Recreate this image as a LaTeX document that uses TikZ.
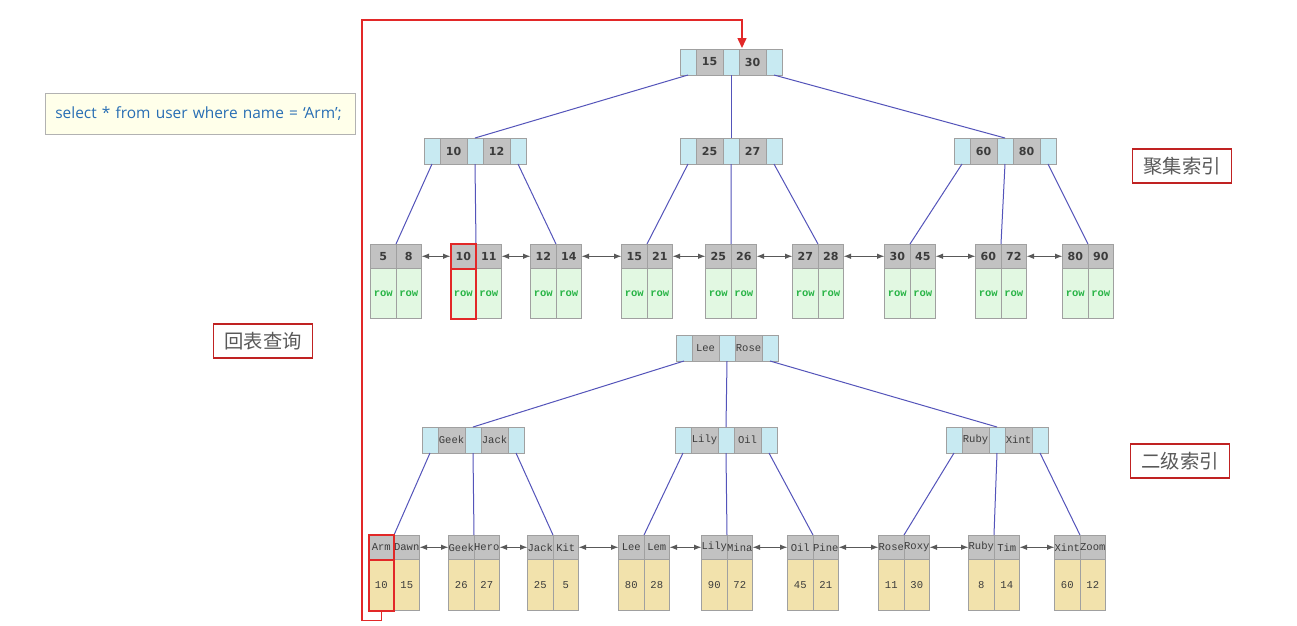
\documentclass[tikz,border=0pt]{standalone}
\usepackage{fontspec}
\setmainfont{DejaVu Sans}
\newfontfamily\monofont{Liberation Mono}
\newfontfamily\sqlfont{Open Sans}
\newfontfamily\cjkfont{Noto Sans CJK SC}
\usetikzlibrary{arrows.meta, positioning, fit, calc}
\definecolor{ptrblue}{RGB}{200,234,242}
\definecolor{keygray}{RGB}{194,194,194}
\definecolor{cellline}{RGB}{160,160,160}
\definecolor{keytext}{RGB}{60,60,60}
\definecolor{rowgreen}{RGB}{226,248,226}
\definecolor{rowtext}{RGB}{40,180,70}
\definecolor{valtan}{RGB}{242,226,172}
\definecolor{edgeblue}{RGB}{84,84,186}
\definecolor{hitred}{RGB}{226,40,40}
\definecolor{sqlfill}{RGB}{255,255,234}
\definecolor{sqltext}{RGB}{40,110,180}
\tikzset{%
	ptr/.style={draw=cellline, fill=ptrblue, minimum width=3.2mm, minimum height=5.2mm,%
		inner sep=0mm, outer sep=0mm},
	key/.style={draw=cellline, fill=keygray, minimum width=5.4mm, minimum height=5.2mm,%
		inner sep=0mm, outer sep=0mm, text=keytext, font=\bfseries\fontsize{6.3}{7}\selectfont},
	lkey/.style={draw=cellline, fill=keygray, minimum width=5.1mm, minimum height=4.9mm,%
		inner sep=0mm, outer sep=0mm, text=keytext, font=\bfseries\fontsize{6.3}{7}\selectfont},
	rowcell/.style={draw=cellline, fill=rowgreen, minimum width=5.1mm, minimum height=10mm,%
		inner sep=0mm, outer sep=0mm, text=rowtext, font=\monofont\bfseries\fontsize{6}{7}\selectfont},
	valcell/.style={draw=cellline, fill=valtan, minimum width=5.1mm, minimum height=10.2mm,%
		inner sep=0mm, outer sep=0mm, text=keytext, font=\monofont\fontsize{6}{7}\selectfont},
	names/.style={font=\monofont\fontsize{6}{7}\selectfont},
	edge/.style={draw=edgeblue, line width=0.2mm},
	link/.style={<->, >={Latex[length=1.5mm, width=1.1mm]}, draw=black!65, line width=0.2mm},
	hl/.style={draw=hitred, line width=0.4mm, inner sep=0mm},
	back/.style={-{Triangle[length=2mm, width=1.8mm]}, draw=hitred, line width=0.3mm},
	tag/.style={draw=hitred!85!black, line width=0.3mm, fill=white, minimum width=19.8mm,%
		minimum height=6.8mm, text=black!65, font=\cjkfont\fontsize{11}{12}\selectfont},
	query/.style={draw=black!30, fill=sqlfill, minimum height=8.2mm, text width=58mm,%
		inner xsep=2mm, align=left, text=sqltext, font=\sqlfont\fontsize{8.8}{10}\selectfont}
}
% inner node: name, left x, top y, key 1, key 2
\newcommand\inode[5]{%
	\node[ptr, anchor=north west] (#1-p1) at (#2,#3) {};
	\node[key, right=0pt of #1-p1] (#1-k1) {#4};
	\node[ptr, right=0pt of #1-k1] (#1-p2) {};
	\node[key, right=0pt of #1-p2] (#1-k2) {#5};
	\node[ptr, right=0pt of #1-k2] (#1-p3) {};
}
% clustered leaf: name, middle x, key 1, key 2
\newcommand\cleaf[4]{%
	\node[lkey, anchor=north east] (#1-k1) at (#2,244) {#3};
	\node[lkey, anchor=north west] (#1-k2) at (#2,244) {#4};
	\node[rowcell, below=0pt of #1-k1] (#1-v1) {row};
	\node[rowcell, below=0pt of #1-k2] (#1-v2) {row};
}
% secondary leaf: name, middle x, key 1, value 1, key 2, value 2
\newcommand\sleaf[6]{%
	\node[lkey, names, anchor=north east] (#1-k1) at (#2,535) {#3};
	\node[lkey, names, anchor=north west] (#1-k2) at (#2,535) {#5};
	\node[valcell, below=0pt of #1-k1] (#1-v1) {#4};
	\node[valcell, below=0pt of #1-k2] (#1-v2) {#6};
}

\begin{document}
\begin{tikzpicture}[x=0.2mm, y=-0.2mm]
  \useasboundingbox[fill=white] (0,0) rectangle (1297,625);

  % clustered index
  \inode{cr}{680}{49}{15}{30}
  \inode{ca}{424}{138}{10}{12}
  \inode{cb}{680}{138}{25}{27}
  \inode{cc}{954}{138}{60}{80}
  \cleaf{c1}{396}{5}{8}
  \cleaf{c2}{476}{10}{11}
  \cleaf{c3}{556}{12}{14}
  \cleaf{c4}{647}{15}{21}
  \cleaf{c5}{731}{25}{26}
  \cleaf{c6}{818}{27}{28}
  \cleaf{c7}{910}{30}{45}
  \cleaf{c8}{1001}{60}{72}
  \cleaf{c9}{1088}{80}{90}

  % secondary index
  \begin{scope}[key/.append style={names}]
    \inode{sr}{676}{335}{Lee}{Rose}
    \inode{sa}{422}{427}{Geek}{Jack}
    \inode{sb}{675}{427}{Lily}{Oil}
    \inode{sc}{946}{427}{Ruby}{Xint}
  \end{scope}
  \sleaf{s1}{394}{Arm}{10}{Dawn}{15}
  \sleaf{s2}{474}{Geek}{26}{Hero}{27}
  \sleaf{s3}{553}{Jack}{25}{Kit}{5}
  \sleaf{s4}{644}{Lee}{80}{Lem}{28}
  \sleaf{s5}{727}{Lily}{90}{Mina}{72}
  \sleaf{s6}{813}{Oil}{45}{Pine}{21}
  \sleaf{s7}{904}{Rose}{11}{Roxy}{30}
  \sleaf{s8}{994}{Ruby}{8}{Tim}{14}
  \sleaf{s9}{1080}{Xint}{60}{Zoom}{12}

  % tree edges
  \foreach \t in {c, s} {
    \draw[edge] (\t r-p1.south) -- (\t a-p2.north);
    \draw[edge] (\t r-p2.south) -- (\t b-p2.north);
    \draw[edge] (\t r-p3.south) -- (\t c-p2.north);
    \foreach \n/\a/\b/\c in {a/1/2/3, b/4/5/6, c/7/8/9} {
      \draw[edge] (\t\n-p1.south) -- (\t\a-k1.north east);
      \draw[edge] (\t\n-p2.south) -- (\t\b-k1.north east);
      \draw[edge] (\t\n-p3.south) -- (\t\c-k1.north east);
    }
    \foreach \a/\b in {1/2, 2/3, 3/4, 4/5, 5/6, 6/7, 7/8, 8/9}
      \draw[link] (\t\a-k2.east) -- (\t\b-k1.west);
  }

  % lookup
  \node[hl, fit=(c2-k1)] (hitkey) {};
  \node[hl, fit=(c2-v1)] (hitrow) {};
  \node[hl, fit=(s1-k1)] (armkey) {};
  \node[hl, fit=(s1-v1)] (armval) {};
  \draw[back] (armval.south) -- ++(0,9) -| (362,20) -| ($(cr-k2.north west)+(3,-1)$);

  \node[query, anchor=west] (sql) at (45,114) {select * from user where name = ‘Arm’;};
  \node[tag] (ctag) at (1182,166) {聚集索引};
  \node[tag] (stag) at (1180,461) {二级索引};
  \node[tag] (btag) at (263,341) {回表查询};
\end{tikzpicture}
\end{document}
